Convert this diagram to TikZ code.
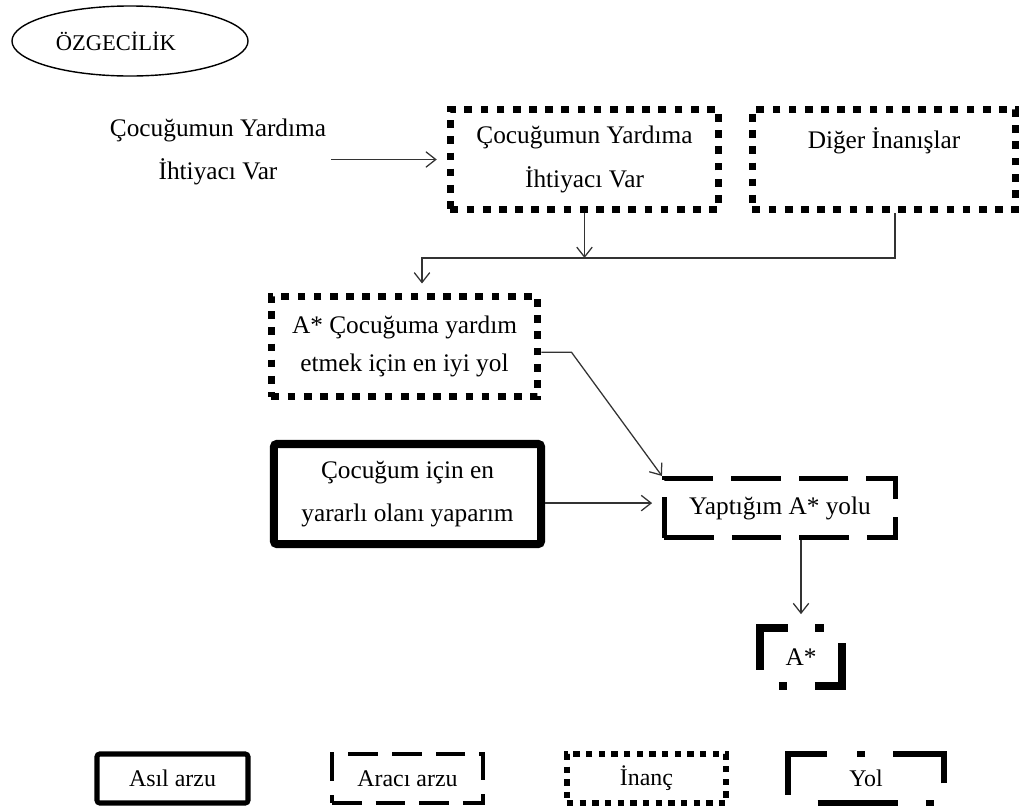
\documentclass[tikz,border=0pt]{standalone}
\usepackage{fontspec}
\setmainfont{Liberation Serif}
\usetikzlibrary{arrows.meta,shapes.geometric}
\begin{document}
\begin{tikzpicture}
        [x=0.025cm, y=-0.025cm,
        txt/.style={align=center, font=\fontsize{18}{31}\selectfont},
        inanc/.style={txt, draw, line width=5.5pt, dash pattern=on 5.5pt off 6pt, minimum height=2.5cm},
        araci/.style={txt, draw, line width=3.6pt, dash pattern=on 35pt off 13pt, minimum height=1.475cm},
        asil/.style={txt, draw, line width=5.7pt, rounded corners=2pt, minimum height=2.5cm},
        yolbox/.style={txt, draw, line width=5.7pt, dash pattern=on 50pt off 23.5pt on 6pt off 19.5pt,
            dash phase=60pt, minimum height=1.45cm},
        legend/.style={font=\fontsize{17}{20}\selectfont, minimum height=1.225cm},
        line/.style={draw=black!80, line width=0.9pt},
        arr/.style={line, -{Straight Barb[length=7pt,width=11pt]}}]
        \useasboundingbox (0,0) rectangle (1020,811);
        \node[draw, ellipse, line width=1pt, minimum width=5.9cm, minimum height=1.75cm,
            font=\fontsize{16}{18}\selectfont] (ozg) at (130,41) {ÖZGECİLİK\hspace*{20pt}};
        \node[txt] (src) at (218,152) {Çocuğumun Yardıma\\İhtiyacı Var};
        \node[inanc, minimum width=6.7cm] (b1) at (584.5,159.5) {Çocuğumun Yardıma\\İhtiyacı Var};
        \node[inanc, minimum width=6.575cm] (b2) at (884,159.5) {Diğer İnanışlar\\\phantom{İ}};
        \node[inanc, minimum width=6.65cm, font=\fontsize{18}{27}\selectfont] (b3) at (404.5,346.5)
            {A* Çocuğuma yardım\\etmek için en iyi yol};
        \node[asil, minimum width=6.675cm] (b4) at (407.5,494) {Çocuğum için en\\yararlı olanı yaparım};
        \node[araci, minimum width=5.775cm] (b5) at (780,508) {Yaptığım A* yolu};
        \node[yolbox, minimum width=2.05cm] (b6) at (801,657) {A*};
        \coordinate (jn) at (422,258);
        \coordinate (b5in) at ([yshift=3.5pt]b5.west);
        \draw[arr, shorten >=7pt] (src.east |- b1.west) -- (b1.west);
        \draw[arr] (b1.south) -- (b1.south |- jn);
        \draw[arr, shorten >=6.5pt] ([xshift=7.8pt]b2.south) |- (jn) -- (jn |- b3.north);
        \draw[arr] ([yshift=-4pt]b3.east) -- ++(30,0) -- (b5.north west);
        \draw[arr, shorten >=7pt] (b4.east |- b5in) -- (b5in);
        \draw[arr, shorten >=7pt] (b5.south -| b6.north) -- (b6.north);
        % legend
        \node[asil, legend, line width=3.6pt, minimum width=3.775cm] (lasil) at (172.5,778.5) {Asıl arzu};
        \node[araci, legend, line width=3pt, dash pattern=on 21pt off 10pt, minimum width=3.775cm] (laraci) at (407.5,778.5) {Aracı arzu};
        \node[inanc, legend, line width=4pt, dash pattern=on 4.5pt off 4.5pt, minimum width=3.975cm] (linanc) at (646.5,778.5) {İnanç};
        \node[yolbox, legend, line width=4.5pt, dash pattern=on 57pt off 20pt on 6pt off 21pt,
            dash phase=83pt, minimum width=3.9cm] (lyol) at (866,778.5) {Yol};
\end{tikzpicture}
\end{document}
